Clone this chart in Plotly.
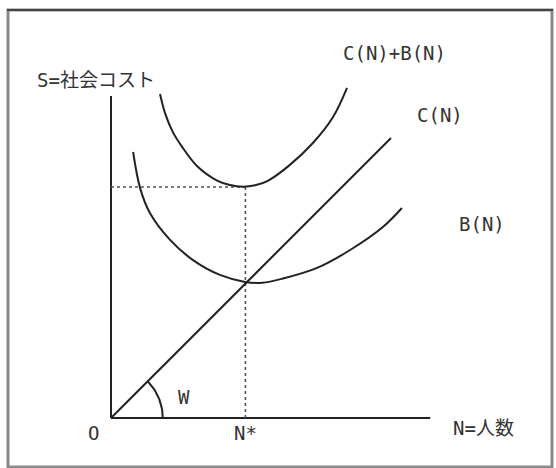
import numpy as np
import plotly.graph_objects as go

# ---- data (schematic values) ----
n_star = 4.8
axis_n_max = 11.4
axis_s_max = 11.5

c_n = [0.0, 10.0]
c_s = [0.0, 10.0]

b_n = [0.79, 1.04, 1.39, 2.11, 2.93, 3.89, 4.79, 5.4, 6.14, 7.36, 8.54, 9.71, 10.39]
b_s = [9.5, 8.21, 7.32, 6.36, 5.64, 5.11, 4.86, 4.83, 4.98, 5.36, 6.0, 6.82, 7.5]

cb_n = [1.75, 1.93, 2.21, 2.57, 3.07, 3.79, 4.25, 4.7, 5.15, 5.6, 6.39, 7.21, 7.93, 8.43]
cb_s = [11.57, 10.89, 10.21, 9.64, 9.0, 8.48, 8.32, 8.26, 8.31, 8.47, 9.04, 9.82, 10.75, 11.79]

cb_min = 8.25      # C+B at N*

w_radius = 1.85
w_angle_deg = 45

labels = ["S=社会コスト", "C(N)+B(N)", "C(N)", "B(N)", "N=人数", "O", "N*", "W"]
label_n = [-0.54, 10.14, 11.75, 13.25, 13.32, -0.64, n_star, 2.6]
label_s = [12.07, 13.04, 10.82, 6.93, -0.36, -0.54, -0.54, 0.75]

# ---- figure ----
INK = "#222222"
FONT = "DejaVu Sans Mono, Noto Sans CJK JP, sans-serif"

fig = go.Figure()

def line(x, y, dash="solid", width=2.0, color=INK, shape="linear"):
    fig.add_trace(go.Scatter(x=x, y=y, mode="lines",
                             line=dict(color=color, width=width, dash=dash, shape=shape,
                                       smoothing=1.0),
                             hoverinfo="skip", showlegend=False))

# axes
line([0, 0], [0, axis_s_max])
line([0, axis_n_max], [0, 0])

# dotted guides
line([n_star, n_star], [0, cb_min], dash="dot", width=1.6, color="#555555")
line([0, n_star], [cb_min, cb_min], dash="dot", width=1.6, color="#555555")

# curves
line(c_n, c_s)
line(b_n, b_s, shape="spline")
line(cb_n, cb_s, shape="spline")

# W angle arc
theta = np.radians(np.linspace(0, w_angle_deg, 40))
line(list(w_radius * np.cos(theta)), list(w_radius * np.sin(theta)))

for t, xn, ys in zip(labels, label_n, label_s):
    fig.add_annotation(x=xn, y=ys, text=t, showarrow=False,
                       font=dict(family=FONT, size=19, color="#333333"),
                       xanchor="center", yanchor="middle")

# outer frame
fig.add_shape(type="rect", xref="paper", yref="paper",
              x0=8 / 556, x1=552 / 556, y0=1 - 467 / 468, y1=1 - 10 / 468,
              line=dict(color="#8a8a8a", width=3), layer="above")
fig.add_shape(type="line", xref="paper", yref="paper",
              x0=7 / 556, x1=553 / 556, y0=1 - 10 / 468, y1=1 - 10 / 468,
              line=dict(color="#444444", width=2), layer="above")

scale = 28.0
fig.update_layout(
    width=556, height=468, autosize=False,
    margin=dict(l=0, r=0, t=0, b=0),
    paper_bgcolor="white", plot_bgcolor="white",
    xaxis=dict(range=[-111 / scale, 445 / scale], visible=False, fixedrange=True),
    yaxis=dict(range=[-50 / scale, 418 / scale], visible=False, fixedrange=True),
    showlegend=False,
)

fig.write_html("out.html", config={"displayModeBar": False, "staticPlot": True},
               post_script="document.body.style.margin='0';")
